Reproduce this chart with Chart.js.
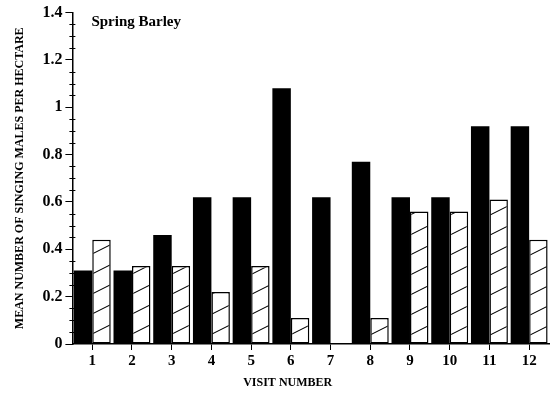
<!DOCTYPE html>
<html>
<head>
<meta charset="utf-8">
<script src="https://cdn.jsdelivr.net/npm/chart.js@4/dist/chart.umd.min.js"></script>
<style>
  html, body { margin: 0; padding: 0; background: #ffffff; }
  #wrap { width: 550px; height: 395px; }
</style>
</head>
<body>
<div id="wrap"><canvas id="grafica"></canvas></div>
<script>
const visitas = ['1', '2', '3', '4', '5', '6', '7', '8', '9', '10', '11', '12']
const serieNegra = [0.31, 0.31, 0.46, 0.62, 0.62, 1.08, 0.62, 0.77, 0.62, 0.62, 0.92, 0.92]
const serieRayada = [0.44, 0.33, 0.33, 0.22, 0.33, 0.11, 0, 0.11, 0.56, 0.56, 0.61, 0.44]
const marcasY = [0, 0.2, 0.4, 0.6, 0.8, 1, 1.2, 1.4]

const fuente = "'Liberation Serif', 'DejaVu Serif', serif"

// hatch pattern: thin lines rising to the right
const rayado = () => {
    const c = document.createElement('canvas')
    c.width = 40
    c.height = 20
    const ctx = c.getContext('2d')
    ctx.fillStyle = '#ffffff'
    ctx.fillRect(0, 0, 40, 20)
    ctx.strokeStyle = '#000000'
    ctx.lineWidth = 1.1
    ctx.beginPath()
    ctx.moveTo(-40, 40); ctx.lineTo(40, 0)
    ctx.moveTo(0, 40); ctx.lineTo(80, 0)
    ctx.stroke()
    return ctx.createPattern(c, 'repeat')
}

// minor ticks on the y axis
const marcasMenores = {
    id: 'marcasMenores',
    afterDraw(chart) {
        const y = chart.scales.y
        const ctx = chart.ctx
        const x0 = chart.chartArea.left
        ctx.save()
        ctx.strokeStyle = '#000000'
        ctx.lineWidth = 1
        for (let i = 0; i <= 28; i++) {
            if (i % 4 === 0) continue
            const py = Math.round(y.getPixelForValue(i * 0.05)) + 0.5
            ctx.beginPath()
            ctx.moveTo(x0 - 3, py)
            ctx.lineTo(x0 + 3, py)
            ctx.stroke()
        }
        ctx.restore()
    }
}

// "Spring Barley" label inside the plot and the x axis title
const rotulos = {
    id: 'rotulos',
    afterDraw(chart) {
        const ctx = chart.ctx
        const area = chart.chartArea
        ctx.save()
        ctx.fillStyle = '#000000'
        ctx.textBaseline = 'middle'
        ctx.font = 'bold 15px ' + fuente
        ctx.fillText('Spring Barley', area.left + 19, area.top + 10)
        ctx.font = 'bold 12px ' + fuente
        ctx.textAlign = 'center'
        ctx.fillText('VISIT NUMBER', (area.left + area.right) / 2 - 23, 383)
        ctx.restore()
    }
}

const dataConfig = {
    labels: visitas,
    datasets: [{
        label: 'negra',
        backgroundColor: '#000000',
        borderWidth: 0,
        data: serieNegra,
        barPercentage: 1,
        categoryPercentage: 0.93
    }, {
        label: 'rayada',
        backgroundColor: rayado(),
        borderColor: '#000000',
        borderWidth: 1.5,
        borderSkipped: false,
        data: serieRayada,
        barPercentage: 1,
        categoryPercentage: 0.93
    }]
}

const config = {
    type: 'bar',
    data: dataConfig,
    options: {
        responsive: true,
        maintainAspectRatio: false,
        animation: false,
        layout: { padding: { top: 8, right: 1, bottom: 23, left: 13 } },
        plugins: {
            legend: { display: false },
            tooltip: { enabled: false }
        },
        scales: {
            x: {
                grid: {
                    offset: false,
                    drawOnChartArea: false,
                    drawTicks: true,
                    tickLength: 6,
                    color: '#000000'
                },
                border: { display: true, color: '#000000', width: 1.5 },
                ticks: {
                    color: '#000000',
                    font: { family: fuente, size: 15, weight: 'bold' },
                    padding: 2,
                    maxRotation: 0
                }
            },
            y: {
                min: 0,
                max: 1.4,
                afterBuildTicks: (scale) => {
                    scale.ticks = marcasY.map((v) => ({ value: v }))
                },
                grid: {
                    drawOnChartArea: false,
                    drawTicks: true,
                    tickLength: 7,
                    color: '#000000'
                },
                border: { display: true, color: '#000000', width: 1.5 },
                ticks: {
                    color: '#000000',
                    font: { family: fuente, size: 16, weight: 'bold' },
                    padding: 3,
                    callback: (v) => String(Math.round(v * 10) / 10)
                },
                title: {
                    display: true,
                    text: 'MEAN NUMBER OF SINGING MALES PER HECTARE',
                    color: '#000000',
                    font: { family: fuente, size: 12, weight: 'bold' },
                    padding: { top: 0, bottom: 12 }
                }
            }
        }
    },
    plugins: [marcasMenores, rotulos]
}

window.graficaUno = new Chart(document.getElementById('grafica'), config)
</script>
</body>
</html>
